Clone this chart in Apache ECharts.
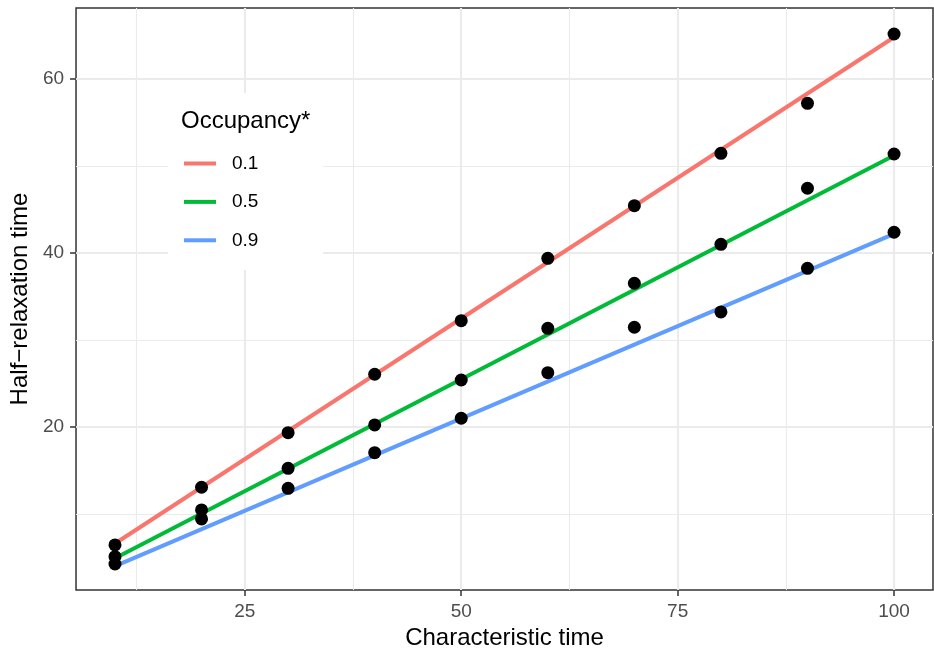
<!DOCTYPE html>
<html>
<head>
<meta charset="utf-8">
<script src="https://cdn.jsdelivr.net/npm/echarts@6/dist/echarts.min.js"></script>
<style>html,body{margin:0;padding:0;background:#fff}#c{width:934px;height:656px}</style>
</head>
<body>
<div id="c"></div>
<script>
// ---- data ----
const charTime = [10, 20, 30, 40, 50, 60, 70, 80, 90, 100];
const occ01 = [6.44, 13.07, 19.35, 26.06, 32.22, 39.39, 45.44, 51.46, 57.2, 65.17];
const occ05 = [5.09, 10.46, 15.25, 20.23, 25.4, 31.34, 36.52, 41.0, 47.44, 51.38];
const occ09 = [4.25, 9.43, 12.95, 17.05, 21.0, 26.24, 31.46, 33.22, 38.24, 42.38];
const fitX = [10, 100];
const fit01 = [6.6, 64.8];
const fit05 = [4.9, 51.2];
const fit09 = [4.0, 42.2];
const occLabels = ['0.1', '0.5', '0.9'];
const xTicks = [25, 50, 75, 100];
const yTicks = [20, 40, 60];
const xMinor = [12.5, 37.5, 62.5, 87.5];
const yMinor = [10, 30, 50];

const colors = ['#F8766D', '#00BA38', '#619CFF'];
const pair = (xs, ys) => xs.map((x, i) => [x, ys[i]]);

const gridLines = []
  .concat(xTicks.map(v => ({ xAxis: v, lineStyle: { width: 2.1 } })))
  .concat(xMinor.map(v => ({ xAxis: v, lineStyle: { width: 1.1 } })))
  .concat(yTicks.map(v => ({ yAxis: v, lineStyle: { width: 2.1 } })))
  .concat(yMinor.map(v => ({ yAxis: v, lineStyle: { width: 1.1 } })));

const fits = [fit01, fit05, fit09];
const pts = [occ01, occ05, occ09];

const series = [];
fits.forEach((f, i) => {
  const s = {
    name: occLabels[i], type: 'line', data: pair(fitX, f), showSymbol: false, symbol: 'none',
    lineStyle: { color: colors[i], width: 4 }, itemStyle: { color: colors[i] }, z: 2, silent: true
  };
  if (i === 0) {
    s.markLine = {
      silent: true, symbol: 'none', z: 1, animation: false,
      label: { show: false },
      lineStyle: { color: '#EBEBEB', type: 'solid' },
      emphasis: { disabled: true },
      data: gridLines
    };
  }
  series.push(s);
});
pts.forEach((p, i) => {
  series.push({
    name: 'pts' + i, type: 'scatter', data: pair(charTime, p), symbolSize: 13,
    itemStyle: { color: '#000', opacity: 1 }, z: 3, silent: true
  });
});

const chart = echarts.init(document.getElementById('c'), null, { renderer: 'canvas' });
chart.setOption({
  animation: false,
  backgroundColor: '#fff',
  textStyle: { fontFamily: 'Liberation Sans, Arial, sans-serif' },
  grid: { left: 75, right: 1, top: 8, bottom: 66, show: true, borderColor: '#333333', borderWidth: 1.5, backgroundColor: 'transparent' },
  xAxis: {
    type: 'value', min: 5.5, max: 104.5,
    name: 'Characteristic time', nameLocation: 'middle', nameGap: 36,
    nameTextStyle: { fontSize: 24, color: '#000' },
    axisLine: { show: false },
    axisTick: { show: true, length: 6, lineStyle: { color: '#333333', width: 1.5 }, customValues: xTicks },
    axisLabel: { fontSize: 19, color: '#4D4D4D', margin: 12, customValues: xTicks },
    splitLine: { show: false }
  },
  yAxis: {
    type: 'value', min: 1.26, max: 68.16,
    name: 'Half\u2212relaxation time', nameLocation: 'middle', nameGap: 40, nameRotate: 90,
    nameTextStyle: { fontSize: 24, color: '#000' },
    axisLine: { show: false },
    axisTick: { show: true, length: 6, lineStyle: { color: '#333333', width: 1.5 }, customValues: yTicks },
    axisLabel: { fontSize: 19, color: '#4D4D4D', margin: 12, customValues: yTicks },
    splitLine: { show: false }
  },
  legend: {
    data: occLabels, orient: 'vertical', left: 184, top: 154, padding: 0,
    itemWidth: 32, itemHeight: 4, itemGap: 19.4, icon: 'rect', z: 20,
    selectedMode: false,
    textStyle: { fontSize: 19, color: '#000', lineHeight: 19, padding: [0, 0, 0, 11] }
  },
  graphic: [
    { type: 'rect', z: 10, shape: { x: 168, y: 93, width: 155, height: 177 }, style: { fill: '#fff' }, silent: true },
    { type: 'text', z: 11, x: 181, y: 121, style: { text: 'Occupancy*', fontSize: 24, fill: '#000', fontFamily: 'Liberation Sans, Arial, sans-serif', verticalAlign: 'middle' }, silent: true }
  ],
  series: series
});
</script>
</body>
</html>
